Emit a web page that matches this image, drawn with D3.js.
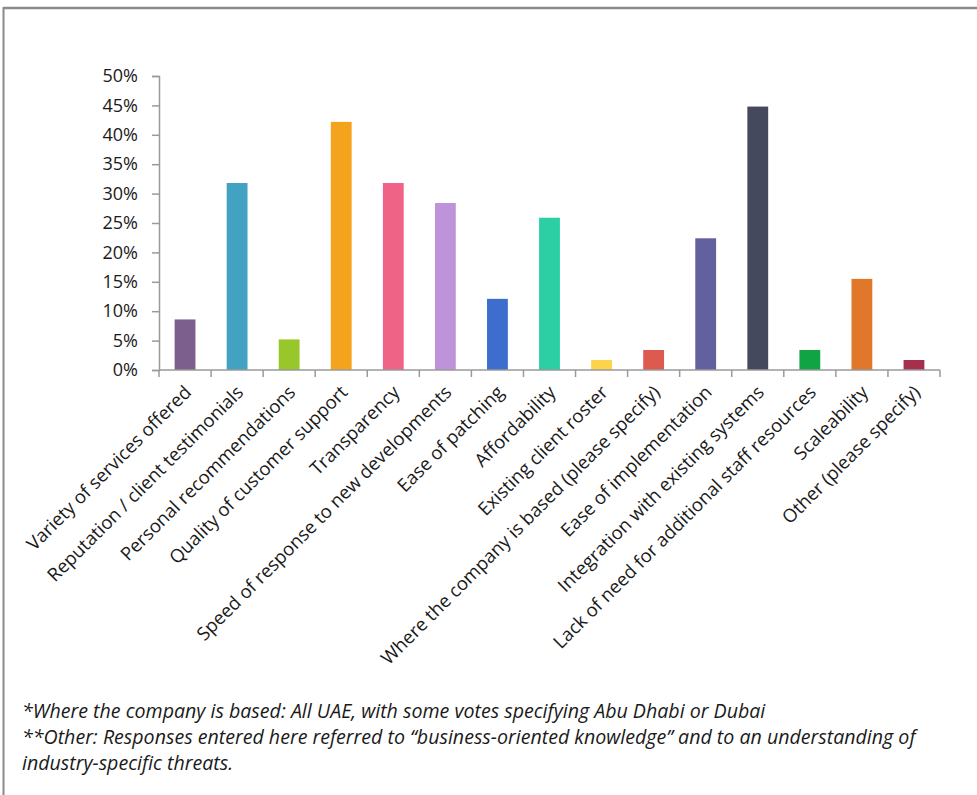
<!DOCTYPE html>
<html>
<head>
<meta charset="utf-8">
<script src="https://cdn.jsdelivr.net/npm/d3@7"></script>
<style>
  html, body { margin: 0; padding: 0; background: #fff; }
  svg { display: block; font-family: "Open Sans", Lato, sans-serif; }
</style>
</head>
<body>
<svg id="chart" width="977" height="795"></svg>
<script>
// Survey results: share of respondents selecting each factor
const categories = [
  "Variety of services offered",
  "Reputation / client testimonials",
  "Personal recommendations",
  "Quality of customer support",
  "Transparency",
  "Speed of response to new developments",
  "Ease of patching",
  "Affordability",
  "Existing client roster",
  "Where the company is based (please  specify)",
  "Ease of implementation",
  "Integration with existing systems",
  "Lack of need for additional staff resources",
  "Scaleability",
  "Other (please specify)"
];
const values = [8.6, 31.8, 5.2, 42.2, 31.8, 28.4, 12.1, 25.9, 1.7, 3.4, 22.4, 44.8, 3.4, 15.5, 1.7];
const barColors = [
  "#7d5f8e", "#41a2c2", "#98c72b", "#f4a31d", "#ef6486",
  "#be93d9", "#3e6ecd", "#2bcfa3", "#fcd34a", "#dd5a4f",
  "#62609e", "#44495d", "#11a444", "#e0772a", "#a72e4d"
];
const yTicks = [0, 5, 10, 15, 20, 25, 30, 35, 40, 45, 50];
const footnotes = [
  "*Where the company is based: All UAE, with some votes specifying Abu Dhabi or Dubai",
  "**Other: Responses entered here referred to \u201cbusiness-oriented knowledge\u201d and to an understanding of",
  "industry-specific threats."
];

const svg = d3.select("#chart");
const W = 977, H = 795;
const plot = { left: 159, right: 940, top: 76, bottom: 370 };
const axisColor = "#9a9a9a";
const textColor = "#1a1a1a";

// Outer frame: top and left edges only
svg.append("line").attr("x1", 3.5).attr("x2", W).attr("y1", 8).attr("y2", 8)
  .attr("stroke", "#8a8a8a").attr("stroke-width", 2.5);
svg.append("line").attr("x1", 3.5).attr("x2", 3.5).attr("y1", 7).attr("y2", H)
  .attr("stroke", "#8a8a8a").attr("stroke-width", 2);

const x = d3.scaleBand()
  .domain(categories)
  .range([plot.left, plot.right])
  .paddingInner(0.6)
  .paddingOuter(0.3);

const y = d3.scaleLinear().domain([0, 50]).range([plot.bottom, plot.top]);

// Bars
svg.append("g").selectAll("rect")
  .data(categories)
  .join("rect")
  .attr("x", d => x(d))
  .attr("width", x.bandwidth())
  .attr("y", (d, i) => y(values[i]))
  .attr("height", (d, i) => y(0) - y(values[i]))
  .attr("fill", (d, i) => barColors[i]);

// Y axis
const yAxis = svg.append("g")
  .attr("transform", `translate(${plot.left},0)`)
  .call(d3.axisLeft(y).tickValues(yTicks).tickFormat(d => d + "%").tickSize(7).tickPadding(14));
yAxis.select(".domain").attr("stroke", axisColor).attr("stroke-width", 1.5);
yAxis.selectAll(".tick line").attr("stroke", axisColor).attr("stroke-width", 1.5);
yAxis.selectAll(".tick text")
  .attr("fill", textColor)
  .style("font-size", "18px")
  .style("font-family", "'Open Sans', sans-serif");

// X axis: boundary ticks between categories
const step = x.step();
const boundaries = d3.range(categories.length + 1).map(i => plot.left + i * step);
const xAxisG = svg.append("g");
xAxisG.append("line")
  .attr("x1", plot.left).attr("x2", plot.right)
  .attr("y1", plot.bottom).attr("y2", plot.bottom)
  .attr("stroke", axisColor).attr("stroke-width", 1.5);
xAxisG.selectAll("line.tick")
  .data(boundaries)
  .join("line")
  .attr("class", "tick")
  .attr("x1", d => d).attr("x2", d => d)
  .attr("y1", plot.bottom).attr("y2", plot.bottom + 7)
  .attr("stroke", axisColor).attr("stroke-width", 1.5);

// Rotated category labels
xAxisG.selectAll("text.cat")
  .data(categories)
  .join("text")
  .attr("class", "cat")
  .attr("transform", d => `translate(${x(d) + x.bandwidth() / 2 - 2},384) rotate(-45)`)
  .attr("text-anchor", "end")
  .attr("dy", "0.72em")
  .attr("fill", textColor)
  .style("font-size", "18.5px")
  .text(d => d);

// Footnotes
svg.append("g").selectAll("text")
  .data(footnotes)
  .join("text")
  .attr("x", 22)
  .attr("y", (d, i) => 718 + i * 26)
  .attr("fill", textColor)
  .style("font-size", "19.6px")
  .style("font-style", "italic")
  .text(d => d);
</script>
</body>
</html>
